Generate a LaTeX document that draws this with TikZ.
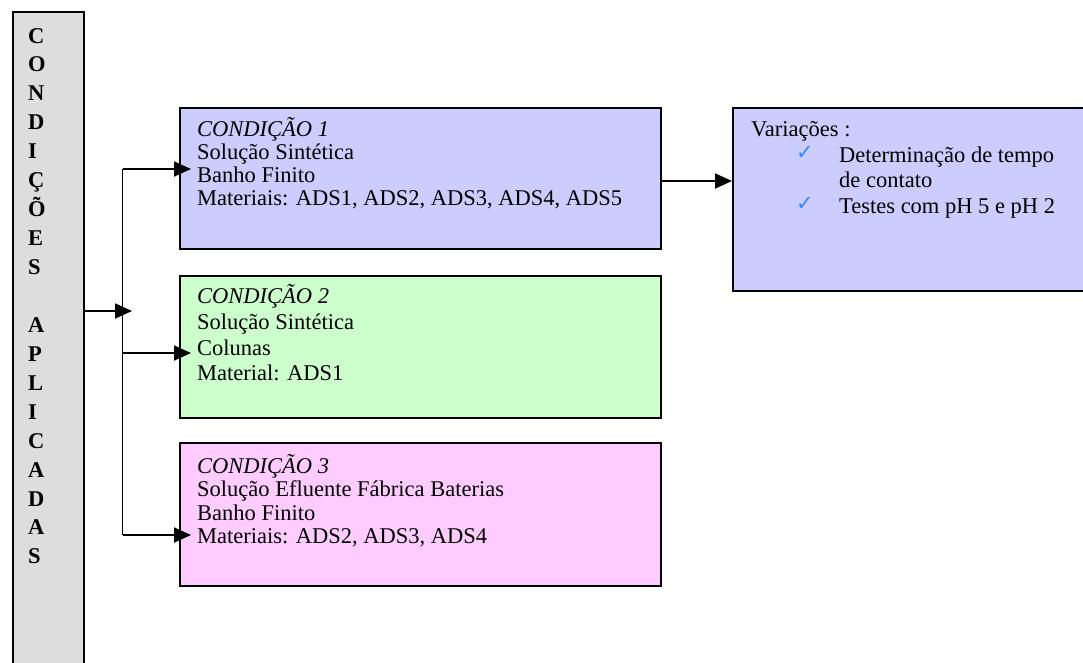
\documentclass[tikz,border=0pt]{standalone}
\usepackage{fontspec}
\setmainfont{Liberation Serif}
\newfontfamily\symfont{DejaVu Sans}
\usetikzlibrary{arrows.meta}
\definecolor{boxblue}{HTML}{CCCCFF}
\definecolor{boxgreen}{HTML}{CCFFCC}
\definecolor{boxpink}{HTML}{FFCCFF}
\definecolor{sidegray}{HTML}{DDDDDD}
\definecolor{checkblue}{RGB}{51,136,255}
\tikzset{
  boxnode/.style={draw=black, line width=1.8pt, rectangle, inner sep=0pt, anchor=north west},
  txt/.style={anchor=base west, inner sep=0pt, font=\fontsize{22.5}{25}\selectfont},
  letter/.style={anchor=base west, inner sep=0pt, font=\fontsize{22.5}{25}\selectfont\bfseries},
  chk/.style={anchor=base west, inner sep=0pt, text=checkblue, font=\symfont\fontsize{21}{22}\selectfont},
  conn/.style={draw=black, line width=1.8pt},
  arr/.style={conn, -{Triangle[length=17pt,width=15pt]}}
}
\begin{document}
\begin{tikzpicture}[x=1pt,y=-1pt]
\useasboundingbox (0,0) rectangle (1083,662);
\clip (0,0) rectangle (1083,662);
% side bar
\node[boxnode, fill=sidegray, minimum width=71pt, minimum height=700pt] (side) at (12,11) {};
\foreach \L [count=\i from 0] in {C,O,N,D,I,Ç,Õ,E,S,{},A,P,L,I,C,A,D,A,S}{
  \node[letter] (let\i) at (28,43+\i*28.94) {\L};
}
% boxes
\node[boxnode, fill=boxblue, minimum width=481pt, minimum height=141pt] (b1) at (179,107) {};
\node[boxnode, fill=boxgreen, minimum width=481pt, minimum height=142pt] (b2) at (179,275) {};
\node[boxnode, fill=boxpink, minimum width=481pt, minimum height=143pt] (b3) at (179,442) {};
\node[boxnode, fill=boxblue, minimum width=400pt, minimum height=183pt] (var) at (732,107) {};
% box 1 text
\node[txt] (b1a) at (197,136) {\itshape CONDIÇÃO 1};
\node[txt] (b1b) at (197,159) {Solução Sintética};
\node[txt] (b1c) at (197,182) {Banho Finito};
\node[txt] (b1d) at (197,205) {Materiais: ADS1, ADS2, ADS3, ADS4, ADS5};
% box 2 text
\node[txt] (b2a) at (197,303) {\itshape CONDIÇÃO 2};
\node[txt] (b2b) at (197,329) {Solução Sintética};
\node[txt] (b2c) at (197,355) {Colunas};
\node[txt] (b2d) at (197,380) {Material: ADS1};
% box 3 text
\node[txt] (b3a) at (197,473) {\itshape CONDIÇÃO 3};
\node[txt] (b3b) at (197,496) {Solução Efluente Fábrica Baterias};
\node[txt] (b3c) at (197,520) {Banho Finito};
\node[txt] (b3d) at (197,543) {Materiais: ADS2, ADS3, ADS4};
% variations text
\node[txt] (v0) at (751,136) {Variações :};
\node[chk] (c1) at (796,159) {✓};
\node[txt] (v1) at (839,162) {Determinação de tempo};
\node[txt] (v2) at (839,187) {de contato};
\node[chk] (c2) at (796,210) {✓};
\node[txt] (v3) at (839,213) {Testes com pH 5 e pH 2};
% connectors
\coordinate (jt) at (122.5,169);
\coordinate (jb) at (122.5,535);
\coordinate (jm) at (132,311);
\draw[conn] (jt) -- (jb);
\draw[arr] (side.east |- jm) -- (jm);
\draw[arr] (jt) -- ([xshift=12pt]b1.west |- jt);
\draw[arr] (jt |- 0,353) -- ([xshift=12pt]b2.west |- 0,353);
\draw[arr] (jb) -- ([xshift=12pt]b3.west |- jb);
\draw[arr] (b1.east |- 0,181) -- (var.west |- 0,181);
\end{tikzpicture}
\end{document}
